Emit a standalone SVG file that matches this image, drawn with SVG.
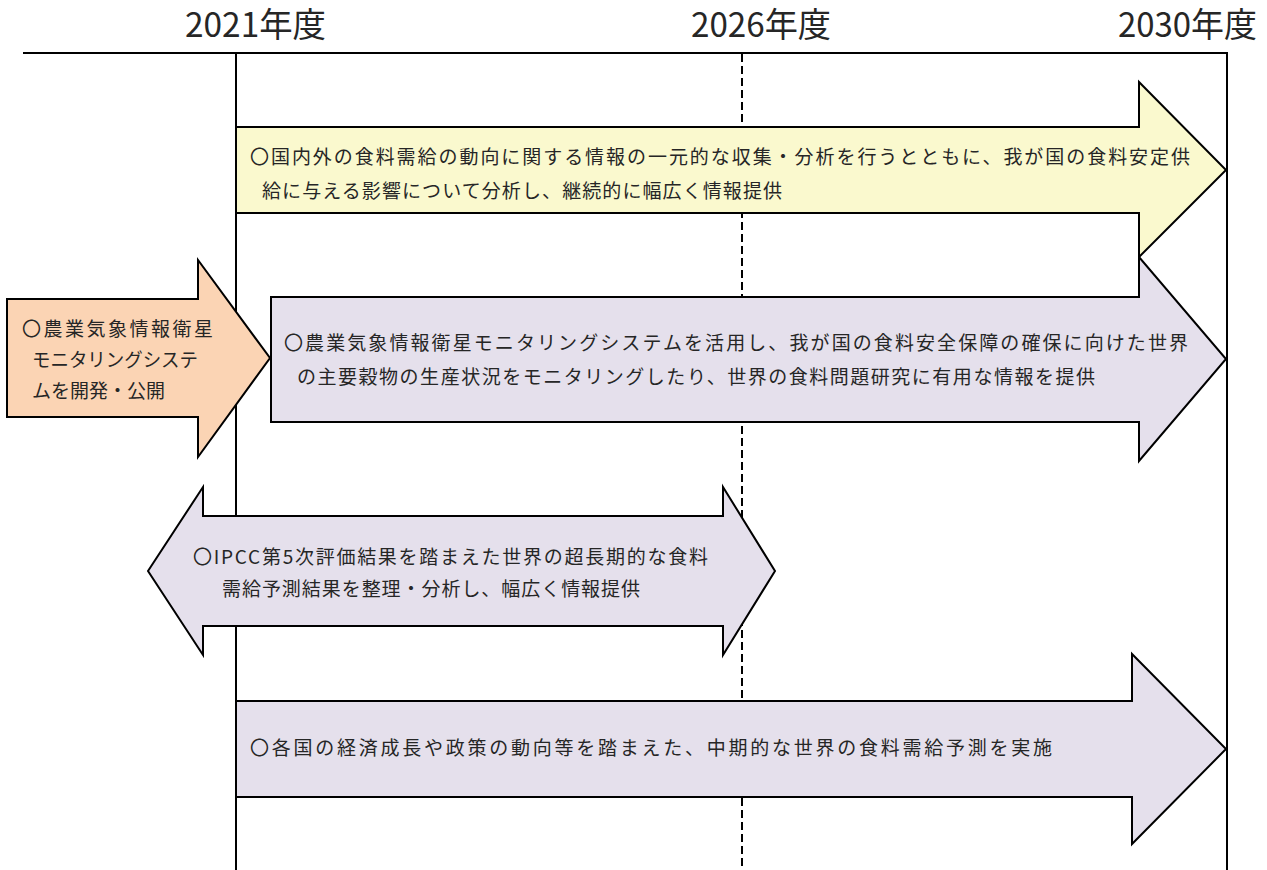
<svg xmlns="http://www.w3.org/2000/svg" width="1267" height="870" viewBox="0 0 1267 870">
<style>
.hdr{font-family:"Noto Sans CJK JP","Noto Sans",sans-serif;font-size:34px;fill:#262626}
.t{font-family:"Noto Sans CJK JP","Noto Sans",sans-serif;font-size:19px;fill:#262626}
.ln{stroke:#000;stroke-width:2;fill:none}
.ar{stroke:#000;stroke-width:2;stroke-linejoin:miter}
.y{fill:#FAF9CE}
.p{fill:#E5E0EC}
.o{fill:#FBD4B4}
</style>
<rect width="1267" height="870" fill="#fff"/>
<g id="headers">
<text class="hdr" x="185" y="37" textLength="141" lengthAdjust="spacingAndGlyphs">2021年度</text>
<text class="hdr" x="691" y="37" textLength="140" lengthAdjust="spacingAndGlyphs">2026年度</text>
<text class="hdr" x="1118" y="37" textLength="139" lengthAdjust="spacingAndGlyphs">2030年度</text>
</g>
<g id="connectors">
<line class="ln" x1="23" y1="53" x2="1228" y2="53"/>
<line class="ln" x1="236" y1="52" x2="236" y2="870"/>
<line class="ln" x1="1227" y1="52" x2="1227" y2="870"/>
<line class="ln" x1="742" y1="54" x2="742" y2="870" stroke-dasharray="8,4"/>
</g>
<g id="arrow1">
<path class="ar y" d="M236,127 L1139,127 L1139,82 L1226,170 L1139,257 L1139,213 L236,213 Z"/>
<text class="t" x="250" y="164" textLength="940" lengthAdjust="spacing">〇国内外の食料需給の動向に関する情報の一元的な収集・分析を行うとともに、我が国の食料安定供</text>
<text class="t" x="262" y="198" textLength="520" lengthAdjust="spacing">給に与える影響について分析し、継続的に幅広く情報提供</text>
</g>
<g id="arrow2">
<path class="ar p" d="M271,297 L1139,297 L1139,257 L1226,359 L1139,461 L1139,422 L271,422 Z"/>
<text class="t" x="284" y="350" textLength="904" lengthAdjust="spacing">〇農業気象情報衛星モニタリングシステムを活用し、我が国の食料安全保障の確保に向けた世界</text>
<text class="t" x="297" y="384" textLength="798" lengthAdjust="spacing">の主要穀物の生産状況をモニタリングしたり、世界の食料問題研究に有用な情報を提供</text>
</g>
<g id="arrow-orange">
<path class="ar o" d="M7,299 L198,299 L198,260 L270,358 L198,457 L198,417 L7,417 Z"/>
<text class="t" x="22" y="336" textLength="191" lengthAdjust="spacing">〇農業気象情報衛星</text>
<text class="t" x="32" y="367" textLength="166" lengthAdjust="spacingAndGlyphs">モニタリングシステ</text>
<text class="t" x="32" y="398" textLength="133" lengthAdjust="spacing">ムを開発・公開</text>
</g>
<g id="arrow3">
<path class="ar p" d="M148,571 L203,487 L203,516 L723,516 L723,487 L775,571 L723,655 L723,626 L203,626 L203,655 Z"/>
<text class="t" x="193" y="564" textLength="515" lengthAdjust="spacing">〇IPCC第5次評価結果を踏まえた世界の超長期的な食料</text>
<text class="t" x="222" y="596" textLength="418" lengthAdjust="spacing">需給予測結果を整理・分析し、幅広く情報提供</text>
</g>
<g id="arrow4">
<path class="ar p" d="M236,701 L1132,701 L1132,654 L1226,749 L1132,844 L1132,797 L236,797 Z"/>
<text class="t" x="250" y="755" textLength="802" lengthAdjust="spacing">〇各国の経済成長や政策の動向等を踏まえた、中期的な世界の食料需給予測を実施</text>
</g>
</svg>
